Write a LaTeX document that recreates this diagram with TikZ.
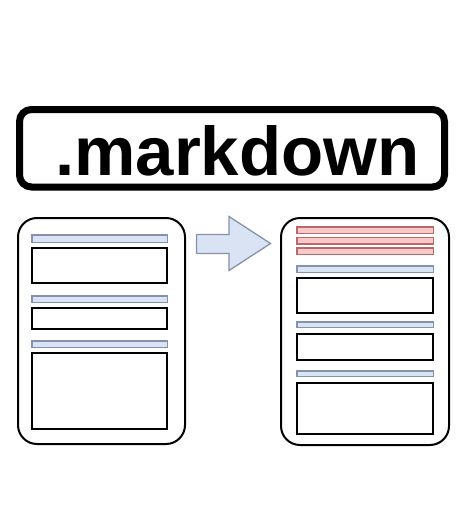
\documentclass[tikz,border=0pt]{standalone}
\usepackage{fontspec}
\setmainfont{Liberation Sans}
\begin{document}
\begin{tikzpicture}[x=1pt,y=-1pt,
  page/.style={draw=black,line width=2pt,rounded corners=19pt,fill=white},
  bluebar/.style={draw=barblue,fill=fillblue,line width=1.5pt},
  redbar/.style={draw=barred,fill=fillred,line width=1.5pt},
  content/.style={draw=black,line width=1.6pt,fill=white},
  title/.style={draw=black,line width=7pt,rounded corners=12pt},
]
\definecolor{barblue}{HTML}{8393AD}
\definecolor{fillblue}{HTML}{DAE3F3}
\definecolor{barred}{HTML}{B86A6A}
\definecolor{fillred}{HTML}{F9C8C8}
\useasboundingbox (0,0) rectangle (464,522);
\fill[white] (0,0) rectangle (464,522);
% title box
\draw[title] (19.5,109.5) rectangle (444.5,187);
\node[anchor=base west,inner sep=0pt,font=\fontsize{69}{69}\selectfont\bfseries] (ttl) at (55,175) {.markdown};
% left page
\draw[page] (18,218) rectangle (185,444);
\draw[bluebar] (31.75,234.75) rectangle (167.25,242.25);
\draw[content] (31.8,247.8) rectangle (167.2,283.2);
\draw[bluebar] (31.75,295.75) rectangle (167.25,302.25);
\draw[content] (31.8,307.8) rectangle (167.2,329.2);
\draw[bluebar] (31.75,340.75) rectangle (167.25,347.25);
\draw[content] (31.8,352.8) rectangle (167.2,429.2);
% arrow
\draw[draw=barblue,fill=fillblue,line width=1.3pt,line join=miter]
  (196.5,234.5) -- (229,234.5) -- (229,216.5) -- (270.5,243.5) -- (229,270.5) -- (229,253.5) -- (196.5,253.5) -- cycle;
% right page
\draw[page] (281,218) rectangle (449,445);
\draw[redbar] (296.75,226.75) rectangle (433.25,233.25);
\draw[redbar] (296.75,237.25) rectangle (433.25,243.75);
\draw[redbar] (296.75,247.75) rectangle (433.25,254.25);
\draw[bluebar] (296.75,265.75) rectangle (433.25,272.25);
\draw[content] (296.8,277.8) rectangle (433.2,313.2);
\draw[bluebar] (296.75,321.75) rectangle (433.25,327.25);
\draw[content] (296.8,333.8) rectangle (433.2,360.2);
\draw[bluebar] (296.75,370.75) rectangle (433.25,376.25);
\draw[content] (296.8,382.8) rectangle (433.2,434.2);
\end{tikzpicture}
\end{document}
